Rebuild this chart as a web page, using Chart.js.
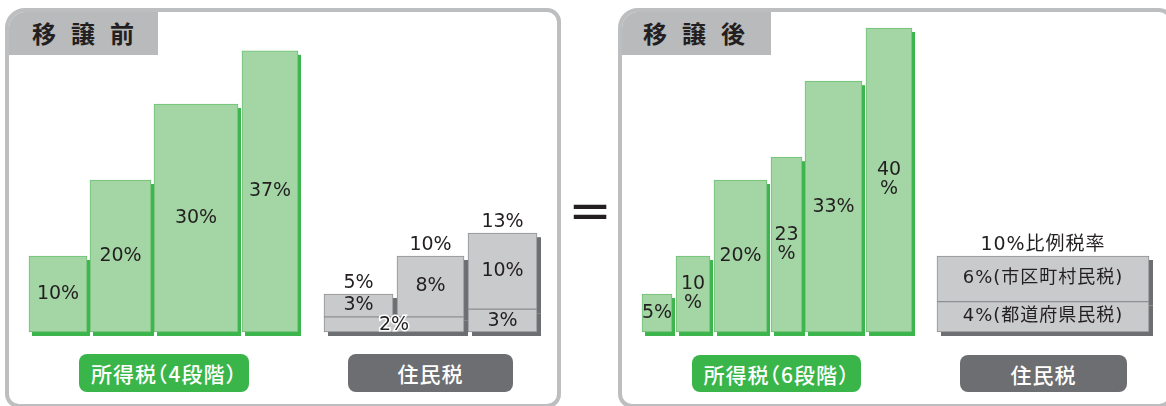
<!DOCTYPE html>
<html lang="ja">
<head>
<meta charset="utf-8">
<title>移譲前・移譲後</title>
<script src="https://cdn.jsdelivr.net/npm/chart.js@4.4.1/dist/chart.umd.min.js"></script>
<style>
  body { margin: 0; background: #fff; }
  #wrap { position: relative; width: 1166px; height: 406px; overflow: hidden; font-family: "Noto Sans CJK JP", sans-serif; }
  .panel { position: absolute; top: 8px; height: 400px; box-sizing: border-box; border: 4px solid #bcbec0; border-radius: 20px 14px 14px 14px; overflow: hidden; background: #fff; }
  #before { left: 5px; width: 556px; }
  #after { left: 618px; width: 555px; }
  .tab { position: absolute; left: 0; top: 0; width: 149px; height: 43px; background: #b9babc; color: #231f20; font-weight: 700; font-size: 24px; letter-spacing: 15px; line-height: 42px; box-sizing: border-box; white-space: nowrap; }
  #before .tab { padding-left: 23px; }
  #after .tab { padding-left: 21px; }
  .pill { position: absolute; height: 38px; border-radius: 8px; color: #fff; font-size: 21px; font-weight: 500; letter-spacing: 1px; font-feature-settings: "halt"; display: flex; align-items: center; justify-content: center; white-space: nowrap; }
  .green { background: #39b54a; }
  .gray { background: #6d6e71; }
  #eq { position: absolute; left: 560px; top: 184px; width: 60px; text-align: center; font: 52px/52px "DejaVu Sans"; color: #231f20; }
  #chartBox { position: absolute; left: 0; top: 0; width: 1166px; height: 406px; z-index: 2; }
</style>
</head>
<body>
<div id="wrap">
  <div class="panel" id="before"><div class="tab">移譲前</div></div>
  <div class="panel" id="after"><div class="tab">移譲後</div></div>
  <div id="eq">=</div>
  <div class="pill green" style="left:79px;top:354px;width:170px;">所得税（4段階）</div>
  <div class="pill gray" style="left:348px;top:354px;width:165px;">住民税</div>
  <div class="pill green" style="left:692px;top:355px;width:169px;height:37px;">所得税（6段階）</div>
  <div class="pill gray" style="left:960px;top:355px;width:167px;height:37px;">住民税</div>
  <div id="chartBox"><canvas id="rates"></canvas></div>
</div>
<script>
// rates in percent
const incomeBefore = [10, 20, 30, 37];
const incomeAfter = [5, 10, 20, 23, 33, 40];
const cityBefore = [3, 8, 10];   // 市区町村民税
const prefBefore = [2, 2, 3];    // 都道府県民税
const cityAfter = [6];
const prefAfter = [4];
const flatNote = "10%比例税率";

// layout (x scale runs 1 unit per px)
const W = 1166, H = 406;
const BASE_PX = 332, PX_PER_PCT = 7.6;
const incomeBeforeCols = [[29, 87], [90, 151], [154, 238], [242, 298]];
const incomeAfterCols = [[642, 672], [676, 710], [714, 767], [771, 802], [805, 862], [866, 912]];
const incomeAfterWrap = [false, true, false, true, false, true];
const residentBeforeCols = [[324, 393], [397, 464], [468, 537]];
const residentAfterCols = [[937, 1149]];

const GREEN = { fill: "#a3d5a5", line: "#6cc172", shadow: "#3bb54c", dx: 3, dy: 4 };
const GRAY = { fill: "#c9cacc", line: "#8f9093", shadow: "#6d6e71", dx: 4, dy: 4 };
const NUM_FONT = '19px "DejaVu Sans", "Noto Sans CJK JP"';
const JP_FONT = '18px "DejaVu Sans", "Noto Sans CJK JP"';
const NOTE_FONT = '19px "DejaVu Sans", "Noto Sans CJK JP"';

function bar(col, lo, hi, style, extra) {
  return Object.assign({
    data: [{ x: (col[0] + col[1]) / 2, y: [lo, hi] }],
    barThickness: col[1] - col[0],
    backgroundColor: style.fill,
    borderColor: style.line,
    borderWidth: 1,
    borderSkipped: false,
    stack: "one",
    look: style,
  }, extra);
}

const datasets = [];

incomeBefore.forEach((v, i) => {
  datasets.push(bar(incomeBeforeCols[i], 0, v, GREEN, { inner: v + "%" }));
});
incomeAfter.forEach((v, i) => {
  const txt = incomeAfterWrap[i] ? v + "\n%" : v + "%";
  datasets.push(bar(incomeAfterCols[i], 0, v, GREEN, { inner: txt }));
});

// 住民税 before: city part sits on the prefectural part
cityBefore.forEach((v, i) => {
  const lo = prefBefore[i];
  datasets.push(bar(residentBeforeCols[i], lo, lo + v, GRAY, { inner: v + "%", top: (lo + v) + "%" }));
});
// neighbouring columns with the same prefectural rate share one strip
let g = 0;
while (g < prefBefore.length) {
  let e = g;
  while (e + 1 < prefBefore.length && prefBefore[e + 1] === prefBefore[g]) e++;
  const col = [residentBeforeCols[g][0], residentBeforeCols[e][1]];
  datasets.push(bar(col, 0, prefBefore[g], GRAY, { inner: prefBefore[g] + "%", halo: true }));
  g = e + 1;
}

cityAfter.forEach((v, i) => {
  const lo = prefAfter[i];
  datasets.push(bar(residentAfterCols[i], lo, lo + v, GRAY, {
    inner: v + "%(市区町村民税)", innerFont: JP_FONT, spacing: "1px", top: flatNote, topFont: NOTE_FONT
  }));
});
prefAfter.forEach((v, i) => {
  datasets.push(bar(residentAfterCols[i], 0, v, GRAY, { inner: v + "%(都道府県民税)", innerFont: JP_FONT, spacing: "1px" }));
});

const shadowPlugin = {
  id: "barShadow",
  beforeDatasetsDraw(chart) {
    const ctx = chart.ctx;
    chart.data.datasets.forEach((ds, i) => {
      chart.getDatasetMeta(i).data.forEach((el) => {
        const { x, y, base, width } = el.getProps(["x", "y", "base", "width"], true);
        ctx.fillStyle = ds.look.shadow;
        ctx.fillRect(x - width / 2 + ds.look.dx, Math.min(y, base) + ds.look.dy, width, Math.abs(base - y));
      });
    });
  },
};

const labelPlugin = {
  id: "barLabels",
  afterDatasetsDraw(chart) {
    const ctx = chart.ctx;
    chart.data.datasets.forEach((ds, i) => {
      const el = chart.getDatasetMeta(i).data[0];
      if (!el) return;
      const { x, y, base } = el.getProps(["x", "y", "base"], true);
      ctx.save();
      ctx.fillStyle = "#231f20";
      ctx.textAlign = "center";
      ctx.textBaseline = "middle";
      if ("letterSpacing" in ctx) ctx.letterSpacing = ds.spacing || "0px";
      if (ds.inner) {
        ctx.font = ds.innerFont || NUM_FONT;
        const lines = ds.inner.split("\n");
        const cy = (y + base) / 2;
        lines.forEach((ln, k) => {
          const ly = cy + (k - (lines.length - 1) / 2) * 19;
          if (ds.halo && Math.abs(base - y) < 20) {
            ctx.strokeStyle = "#fff";
            ctx.lineWidth = 3;
            ctx.strokeText(ln, x, ly + 1);
            ctx.fillText(ln, x, ly + 1);
          } else {
            ctx.fillText(ln, x, ly);
          }
        });
      }
      if (ds.top) {
        ctx.font = ds.topFont || NUM_FONT;
        ctx.fillText(ds.top, x, y - 11);
      }
      ctx.restore();
    });
  },
};

new Chart(document.getElementById("rates"), {
  type: "bar",
  data: { datasets },
  options: {
    responsive: true,
    maintainAspectRatio: false,
    animation: false,
    events: [],
    layout: { padding: 0 },
    plugins: { legend: { display: false }, tooltip: { enabled: false } },
    scales: {
      x: { type: "linear", min: 0, max: W, offset: false, display: false },
      y: { min: -(H - BASE_PX) / PX_PER_PCT, max: BASE_PX / PX_PER_PCT, display: false, stacked: false },
    },
  },
  plugins: [shadowPlugin, labelPlugin],
});
</script>
</body>
</html>
